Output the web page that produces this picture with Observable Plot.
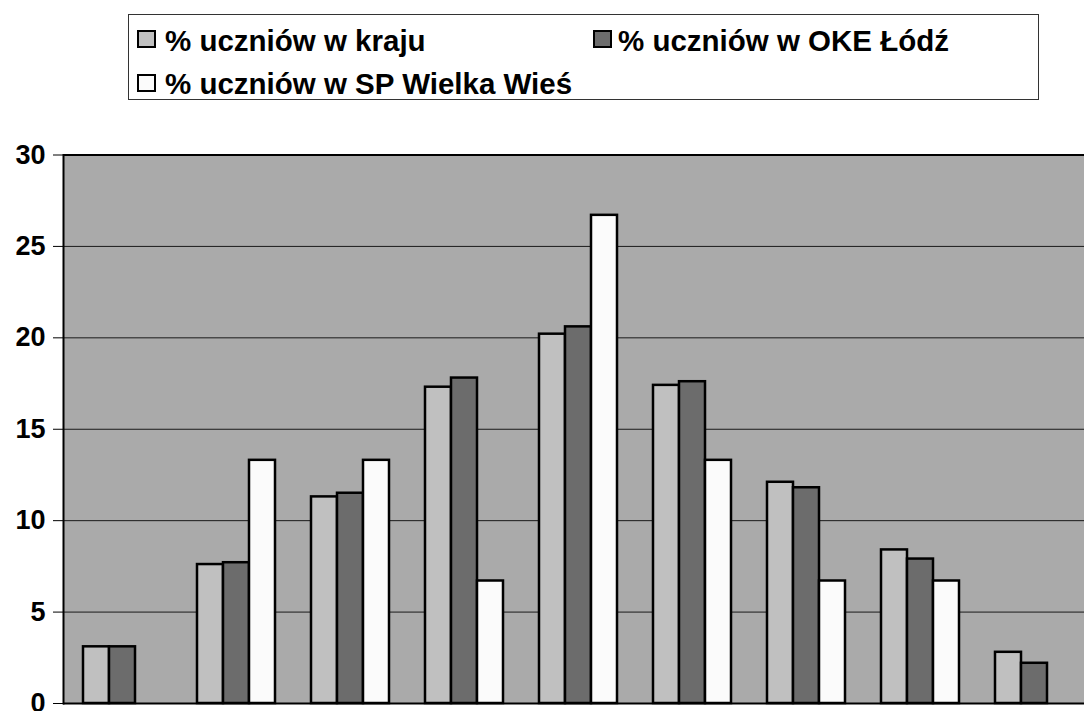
<!DOCTYPE html>
<html>
<head>
<meta charset="utf-8">
<script src="https://cdn.jsdelivr.net/npm/d3@7"></script>
<script src="https://cdn.jsdelivr.net/npm/@observablehq/plot@0.6"></script>
<style>
  html, body { margin: 0; padding: 0; background: #fff; overflow: hidden; }
  #wrap { position: relative; width: 1084px; height: 711px; overflow: hidden; font-family: "Liberation Sans", Arial, sans-serif; }
  #legend { position: absolute; left: 128px; top: 14px; width: 911px; height: 86px; border: 1px solid #333; box-sizing: border-box; }
  .sw { position: absolute; width: 19px; height: 18px; border: 2px solid #000; box-sizing: border-box; }
  .lt { position: absolute; font-weight: bold; font-size: 29.5px; line-height: 29px; white-space: nowrap; color: #000; }
  #chart { position: absolute; left: 0; top: 0; }
</style>
</head>
<body>
<div id="wrap">
  <div id="chart"></div>
  <div id="legendLayer"></div>
</div>
<script>
// Data
const categories = ["1", "2", "3", "4", "5", "6", "7", "8", "9"];
const seriesNames = ["% uczniów w kraju", "% uczniów w OKE Łódź", "% uczniów w SP Wielka Wieś"];
const kraj = [3.1, 7.6, 11.3, 17.3, 20.2, 17.4, 12.1, 8.4, 2.8];
const oke  = [3.1, 7.7, 11.5, 17.8, 20.6, 17.6, 11.8, 7.9, 2.2];
const sp   = [0, 13.3, 13.3, 6.7, 26.7, 13.3, 6.7, 6.7, 0];
const yTicks = [0, 5, 10, 15, 20, 25, 30];

const colors = ["#c0c0c0", "#6c6c6c", "#fbfbfb"];

const rows = categories.map((c, i) => ({cat: c, kraj: kraj[i], oke: oke[i], sp: sp[i]}));

const barStyle = {stroke: "#000", strokeWidth: 2.5};
const keys = ["kraj", "oke", "sp"];
const bw = 26; // width of one bar inside the group band

const bars = keys.map((k, j) => Plot.barY(rows.filter(d => d[k] > 0), {
  x: "cat", y: k, fill: colors[j], ...barStyle,
  insetLeft: bw * j, insetRight: bw * (2 - j)
}));

const chart = Plot.plot({
  width: 1084,
  height: 711,
  marginTop: 154.5,
  marginBottom: 8,
  marginLeft: 63,
  marginRight: -9.4,
  style: {fontFamily: "Liberation Sans, Arial, sans-serif", fontSize: "27px", fontWeight: "bold", overflow: "hidden", color: "#000", background: "transparent"},
  x: {type: "band", domain: categories, paddingInner: 0.32, paddingOuter: 0.148, axis: null},
  y: {domain: [0, 30], axis: null},
  marks: [
    Plot.frame({fill: "#aaaaaa", stroke: null}),
    Plot.gridY(yTicks.filter(t => t > 0 && t < 30), {stroke: "#000", strokeOpacity: 0.85, strokeWidth: 1}),
    Plot.ruleY([30], {stroke: "#000", strokeWidth: 2}),
    ...bars,
    Plot.ruleY([0], {stroke: "#000", strokeWidth: 2}),
    Plot.frame({anchor: "left", stroke: "#000", strokeWidth: 2}),
    Plot.axisY({ticks: yTicks, tickSize: 10, tickPadding: 8, stroke: "#000", fill: "#000", fontSize: 27, fontWeight: "bold", tickFormat: d3.format("d")})
  ]
});
document.getElementById("chart").appendChild(chart);

// Legend (HTML overlay)
const layer = document.getElementById("legendLayer");
const legendBox = document.createElement("div");
legendBox.id = "legend";
layer.appendChild(legendBox);
const legendPos = [
  {sx: 137, sy: 30, tx: 165, ty: 25.5},
  {sx: 593, sy: 30, tx: 618, ty: 25.5},
  {sx: 137, sy: 74, tx: 165, ty: 68.5}
];
seriesNames.forEach((name, j) => {
  const p = legendPos[j];
  const sw = document.createElement("div");
  sw.className = "sw";
  sw.style.left = p.sx + "px"; sw.style.top = p.sy + "px";
  sw.style.background = colors[j];
  layer.appendChild(sw);
  const t = document.createElement("div");
  t.className = "lt";
  t.style.left = p.tx + "px"; t.style.top = p.ty + "px";
  t.textContent = name;
  layer.appendChild(t);
});
</script>
</body>
</html>
